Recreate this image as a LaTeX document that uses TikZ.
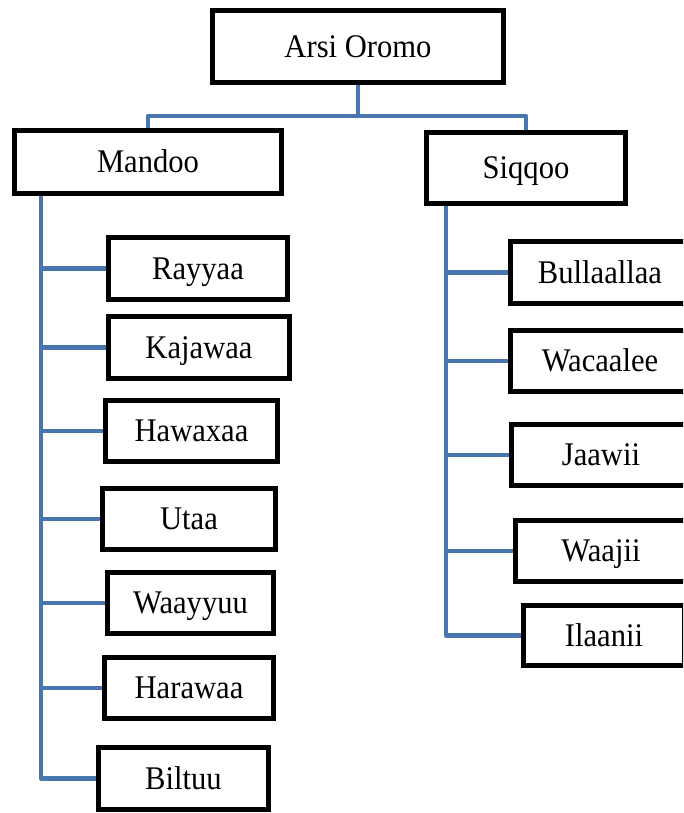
\documentclass[tikz,border=0pt]{standalone}
\usepackage{fontspec}
\setmainfont{Liberation Serif}
\pgfdeclarelayer{background}
\pgfsetlayers{background,main}
\newcommand\boxtext[1]{\scalebox{1}[1.08]{#1}}
\begin{document}
\begin{tikzpicture}[x=1pt,y=-1pt,
  box/.style={draw=black, fill=white, line width=5pt, rectangle,
    inner sep=0pt, font=\fontsize{30.6}{36}\selectfont,
    text height=21.9pt, text depth=0pt},
  link/.style={draw=linkblue, line width=4.6pt, line join=round, line cap=butt}]
\definecolor{linkblue}{RGB}{74,118,176}
\useasboundingbox (0,0) rectangle (683,813);
\clip (0,0) rectangle (683,813);

% tree nodes
\node[box, minimum width=291pt, minimum height=72pt] (root) at (358,46.5) {\boxtext{Arsi Oromo}};
\node[box, minimum width=267pt, minimum height=63pt] (mandoo) at (148,162) {\boxtext{Mandoo}};
\node[box, minimum width=199pt, minimum height=71pt] (siqqoo) at (526,168) {\boxtext{Siqqoo}};

% Mandoo branch
\node[box, minimum width=179pt, minimum height=62pt] (rayyaa) at (198,268.5) {\boxtext{Rayyaa}};
\node[box, minimum width=181pt, minimum height=62pt] (kajawaa) at (199,347.5) {\boxtext{Kajawaa}};
\node[box, minimum width=172pt, minimum height=61pt] (hawaxaa) at (191.5,431) {\boxtext{Hawaxaa}};
\node[box, minimum width=173pt, minimum height=61pt] (utaa) at (189,519) {\boxtext{Utaa}};
\node[box, minimum width=166pt, minimum height=61pt] (waayyuu) at (190.5,603) {\boxtext{Waayyuu}};
\node[box, minimum width=169pt, minimum height=61pt] (harawaa) at (189,688) {\boxtext{Harawaa}};
\node[box, minimum width=170pt, minimum height=62pt] (biltuu) at (183.5,778.5) {\boxtext{Biltuu}};

% Siqqoo branch
\node[box, minimum width=179pt, minimum height=62pt] (bullaallaa) at (600,272.5) {\boxtext{Bullaallaa}};
\node[box, minimum width=179pt, minimum height=61pt] (wacaalee) at (600,361) {\boxtext{Wacaalee}};
\node[box, minimum width=179pt, minimum height=61pt] (jaawii) at (601,455) {\boxtext{Jaawii}};
\node[box, minimum width=171pt, minimum height=61pt] (waajii) at (601,551) {\boxtext{Waajii}};
\node[box, minimum width=161pt, minimum height=60pt] (ilaanii) at (604,635.5) {\boxtext{Ilaanii}};

% trunk start points and the split below the root
\coordinate (ltrunk) at (41,190);
\coordinate (rtrunk) at (446,200);
\coordinate (split) at (358,116);

% connectors, drawn behind the boxes
\begin{pgfonlayer}{background}
  \draw[link] (root.south) -- (split);
  \draw[link] (split) -| (mandoo.north);
  \draw[link] (split) -| (siqqoo.north);

  \draw[link] (ltrunk) |- (biltuu.west);
  \foreach \n in {rayyaa,kajawaa,hawaxaa,utaa,waayyuu,harawaa}
    \draw[link] (ltrunk |- \n.west) -- (\n.west);

  \draw[link] (rtrunk) |- (ilaanii.west);
  \foreach \n in {bullaallaa,wacaalee,jaawii,waajii}
    \draw[link] (rtrunk |- \n.west) -- (\n.west);
\end{pgfonlayer}
\end{tikzpicture}
\end{document}
